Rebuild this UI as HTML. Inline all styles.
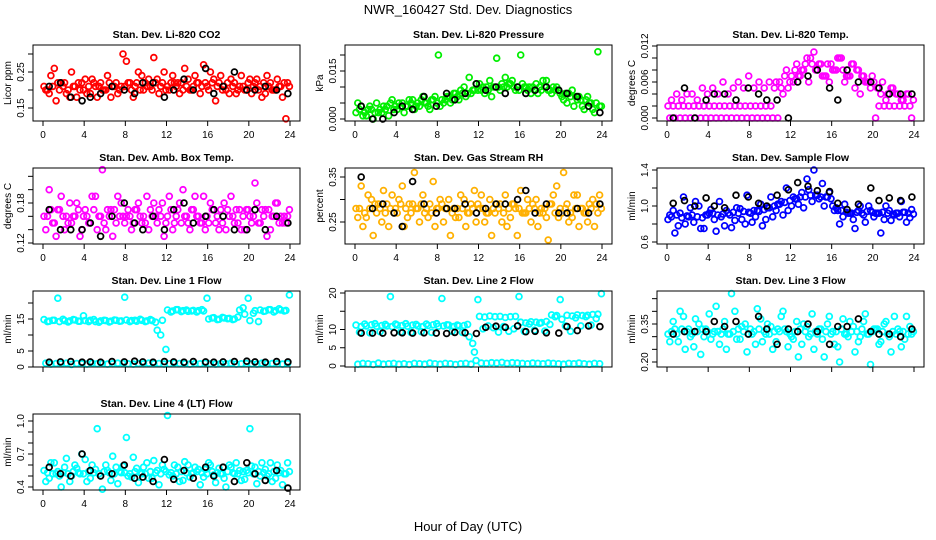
<!DOCTYPE html>
<html><head><meta charset="utf-8"><style>
body{margin:0;background:#fff;}
svg{display:block;font-family:"Liberation Sans",sans-serif;}
</style></head><body>
<svg id="chart" width="936" height="540" viewBox="0 0 936 540" xmlns="http://www.w3.org/2000/svg">
<text x="468" y="14" font-size="13" text-anchor="middle">NWR_160427  Std. Dev. Diagnostics</text>
<text x="468" y="531" font-size="13" text-anchor="middle">Hour of Day (UTC)</text>
</svg>
<script>
const halfHours=[0.1,0.6,1.1,1.6,2.1,2.6,3.1,3.6,4.1,4.6,5.1,5.6,6.1,6.6,7.1,7.6,8.1,8.6,9.1,9.6,10.1,10.6,11.1,11.6,12.1,12.6,13.1,13.6,14.1,14.6,15.1,15.6,16.1,16.6,17.1,17.6,18.1,18.6,19.1,19.6,20.1,20.6,21.1,21.6,22.1,22.6,23.1,23.6];
const blackHours=[0.6,1.7,2.7,3.8,4.6,5.6,6.7,7.9,8.9,9.7,10.7,11.8,12.7,13.7,14.6,15.8,16.6,17.5,18.6,19.8,20.6,21.6,22.7,23.8];
const xTicks=[0,4,8,12,16,20,24];

const co2A=[0.21,0.19,0.26,0.20,0.22,0.18,0.21,0.20,0.23,0.19,0.21,0.22,0.20,0.18,0.22,0.21,0.28,0.20,0.22,0.24,0.21,0.20,0.23,0.22,0.21,0.24,0.22,0.20,0.23,0.21,0.22,0.27,0.20,0.23,0.22,0.21,0.19,0.22,0.21,0.20,0.23,0.22,0.21,0.19,0.22,0.20,0.21,0.12];
const co2B=[0.20,0.24,0.17,0.22,0.19,0.25,0.18,0.22,0.19,0.23,0.18,0.20,0.24,0.21,0.19,0.30,0.22,0.18,0.25,0.20,0.23,0.29,0.19,0.25,0.20,0.22,0.19,0.26,0.20,0.24,0.19,0.22,0.25,0.17,0.24,0.20,0.23,0.19,0.24,0.20,0.19,0.23,0.18,0.24,0.20,0.23,0.18,0.22];
const co2C=[0.20,0.21,0.22,0.21,0.20,0.21,0.22,0.20,0.21,0.22,0.21,0.20,0.22,0.21,0.20,0.21,0.22,0.21,0.20,0.22,0.21,0.22,0.21,0.20,0.22,0.21,0.22,0.21,0.20,0.22,0.21,0.21,0.22,0.21,0.20,0.22,0.21,0.20,0.21,0.22,0.21,0.20,0.22,0.21,0.20,0.21,0.22,0.21];
const co2K=[0.21,0.22,0.18,0.17,0.18,0.19,0.21,0.20,0.19,0.22,0.22,0.18,0.20,0.23,0.20,0.26,0.19,0.21,0.25,0.20,0.20,0.21,0.20,0.19];

const presA=[0.002,0.004,0.001,0.003,0.005,0.002,0.004,0.006,0.003,0.005,0.004,0.006,0.005,0.007,0.004,0.006,0.020,0.005,0.007,0.008,0.006,0.010,0.013,0.009,0.011,0.008,0.012,0.010,0.009,0.013,0.011,0.009,0.020,0.010,0.008,0.011,0.009,0.012,0.008,0.010,0.007,0.005,0.009,0.006,0.004,0.007,0.003,0.021];
const presB=[0.005,0.001,0.003,0.000,0.002,0.004,0.001,0.003,0.005,0.002,0.006,0.003,0.004,0.005,0.003,0.007,0.004,0.006,0.005,0.008,0.009,0.007,0.008,0.011,0.009,0.010,0.007,0.019,0.011,0.010,0.012,0.010,0.011,0.009,0.010,0.008,0.012,0.009,0.010,0.009,0.006,0.008,0.004,0.007,0.003,0.005,0.002,0.004];
const presC=[0.003,0.002,0.004,0.002,0.003,0.003,0.005,0.004,0.004,0.004,0.005,0.004,0.006,0.005,0.006,0.005,0.006,0.007,0.006,0.007,0.008,0.008,0.009,0.009,0.010,0.009,0.010,0.010,0.010,0.011,0.010,0.009,0.010,0.010,0.009,0.010,0.010,0.009,0.009,0.008,0.008,0.007,0.007,0.006,0.006,0.005,0.005,0.004];
const presK=[0.004,0.000,0.000,0.002,0.004,0.003,0.007,0.004,0.008,0.006,0.008,0.011,0.009,0.010,0.008,0.010,0.008,0.009,0.010,0.009,0.008,0.007,0.004,0.002];

const tempA=[0.002,0.002,0.002,0.002,0.002,0.002,0.002,0.002,0.002,0.002,0.002,0.002,0.002,0.002,0.002,0.002,0.002,0.002,0.002,0.002,0.002,0.006,0.005,0.008,0.007,0.009,0.008,0.010,0.009,0.008,0.007,0.009,0.008,0.010,0.008,0.007,0.009,0.008,0.007,0.006,0.006,0.002,0.002,0.002,0.002,0.002,0.002,0.002];
const tempB=[0,0,0,0,0,0,0,0,0,0,0,0,0,0,0,0,0,0,0,0,0,0,0.004,0.005,0.006,0.007,0.008,0.006,0.011,0.009,0.007,0.006,0.008,0.010,0.006,0.007,0.005,0.004,0.006,0.005,0.000,0.004,0.003,0.005,0.004,0.003,0.004,0.000];
const tempC=[0.003,0.004,0.003,0.004,0.004,0.003,0.005,0.004,0.005,0.004,0.006,0.004,0.005,0.006,0.005,0.007,0.005,0.006,0.005,0.006,0.005,0.006,0.007,0.006,0.008,0.007,0.009,0.010,0.008,0.009,0.007,0.009,0.008,0.010,0.007,0.009,0.008,0.007,0.006,0.007,0.005,0.006,0.004,0.005,0.004,0.003,0.004,0.003];
const tempK=[0.000,0.005,0.000,0.003,0.004,0.004,0.003,0.005,0.004,0.003,0.003,0.000,0.006,0.007,0.008,0.005,0.003,0.008,0.006,0.006,0.005,0.004,0.004,0.004];

const ambA=[0.16,0.20,0.15,0.17,0.14,0.18,0.16,0.13,0.17,0.15,0.19,0.16,0.14,0.17,0.15,0.18,0.16,0.14,0.17,0.15,0.19,0.16,0.15,0.18,0.16,0.14,0.17,0.20,0.15,0.17,0.16,0.19,0.15,0.17,0.14,0.18,0.16,0.15,0.17,0.14,0.16,0.21,0.15,0.17,0.14,0.18,0.16,0.15];
const ambB=[0.14,0.17,0.13,0.19,0.16,0.15,0.18,0.14,0.16,0.19,0.14,0.23,0.17,0.13,0.19,0.16,0.17,0.15,0.18,0.16,0.14,0.18,0.17,0.13,0.19,0.15,0.18,0.16,0.14,0.19,0.15,0.14,0.18,0.15,0.17,0.14,0.19,0.17,0.14,0.17,0.15,0.18,0.17,0.13,0.16,0.18,0.15,0.16];
const ambC=[0.16,0.15,0.17,0.16,0.15,0.16,0.17,0.16,0.15,0.17,0.16,0.15,0.16,0.17,0.16,0.15,0.16,0.17,0.16,0.15,0.17,0.16,0.16,0.15,0.17,0.16,0.15,0.16,0.17,0.16,0.15,0.16,0.17,0.16,0.15,0.17,0.16,0.15,0.16,0.17,0.16,0.15,0.16,0.17,0.16,0.15,0.16,0.17];
const ambK=[0.17,0.14,0.14,0.14,0.15,0.13,0.16,0.18,0.15,0.14,0.16,0.14,0.17,0.18,0.15,0.16,0.17,0.16,0.14,0.14,0.17,0.14,0.16,0.15];

const rhA=[0.28,0.33,0.26,0.30,0.27,0.25,0.29,0.31,0.27,0.33,0.26,0.29,0.28,0.31,0.26,0.34,0.28,0.25,0.30,0.28,0.26,0.30,0.27,0.32,0.28,0.25,0.30,0.27,0.29,0.31,0.26,0.28,0.32,0.27,0.25,0.30,0.28,0.26,0.29,0.33,0.27,0.29,0.26,0.31,0.28,0.25,0.30,0.27];
const rhB=[0.26,0.24,0.31,0.22,0.29,0.32,0.24,0.27,0.30,0.24,0.29,0.36,0.25,0.27,0.29,0.24,0.30,0.28,0.22,0.26,0.31,0.24,0.29,0.25,0.31,0.27,0.22,0.29,0.25,0.24,0.29,0.22,0.27,0.30,0.29,0.24,0.27,0.21,0.31,0.26,0.36,0.25,0.31,0.24,0.27,0.29,0.24,0.31];
const rhC=[0.28,0.27,0.28,0.29,0.28,0.27,0.28,0.28,0.29,0.28,0.27,0.28,0.29,0.28,0.27,0.28,0.29,0.28,0.27,0.28,0.28,0.27,0.28,0.29,0.28,0.27,0.28,0.28,0.27,0.28,0.29,0.28,0.27,0.28,0.28,0.27,0.28,0.29,0.27,0.28,0.28,0.27,0.28,0.28,0.27,0.28,0.29,0.28];
const rhK=[0.35,0.28,0.29,0.27,0.24,0.34,0.29,0.27,0.28,0.28,0.29,0.27,0.28,0.29,0.29,0.30,0.32,0.27,0.29,0.27,0.27,0.28,0.27,0.29];

const sfA=[0.85,0.95,0.78,1.10,0.88,0.82,1.00,0.75,0.92,0.85,1.05,0.78,0.90,0.84,0.97,0.80,0.92,0.88,1.02,0.85,1.10,0.95,1.05,1.20,1.00,1.08,1.15,1.30,1.05,1.12,1.25,1.10,1.00,0.95,0.88,0.92,0.85,0.95,0.90,1.00,0.88,0.92,0.85,0.95,0.90,0.88,0.93,0.87];
const sfB=[0.90,0.70,0.92,0.80,0.98,1.05,0.75,0.90,0.96,0.72,0.88,0.95,0.76,0.98,0.85,1.12,0.82,0.95,0.78,0.98,0.88,1.02,0.90,0.95,1.10,1.02,0.98,1.18,1.40,1.08,1.00,1.15,0.95,0.80,1.02,0.92,0.75,1.00,0.82,0.95,0.92,0.70,1.00,0.84,0.92,1.05,0.82,0.96];
const sfC=[0.88,0.90,0.87,0.89,0.90,0.88,0.87,0.90,0.92,0.90,0.91,0.92,0.93,0.92,0.94,0.93,0.95,0.94,0.96,0.98,1.00,1.02,1.04,1.06,1.08,1.10,1.10,1.12,1.12,1.10,1.10,1.08,0.98,0.95,0.93,0.92,0.93,0.92,0.94,0.93,0.92,0.93,0.92,0.91,0.92,0.93,0.92,0.91];
const sfK=[1.03,1.06,1.00,1.09,1.00,0.98,1.12,1.10,1.03,1.00,1.12,1.18,1.26,1.22,1.17,1.16,1.03,0.96,1.02,1.20,1.06,1.09,1.06,1.10];

const l1A=[14.8,14.3,14.6,14.2,14.5,14.4,14.7,14.3,14.5,14.6,14.2,14.4,14.5,14.3,14.6,14.4,14.7,14.5,14.3,14.6,14.4,14.5,11.5,14.6,17.8,17.5,17.9,17.6,17.4,17.7,17.6,17.5,15.0,15.4,14.9,15.3,15.2,15.0,17.8,16.5,14.5,17.6,17.8,17.5,17.9,17.6,17.8,17.7];
const l1B=[1.2,0.9,1.1,1.0,1.2,0.8,1.1,1.0,0.9,1.2,1.0,1.1,0.9,1.0,1.2,1.1,1.0,0.9,1.1,1.0,1.2,1.0,1.1,0.9,1.0,1.2,1.1,1.0,0.9,1.1,1.0,1.2,1.0,0.9,1.1,1.0,1.2,0.9,1.0,1.1,1.0,0.9,1.2,1.0,1.1,1.0,0.9,1.1];
const l1C=[14.2,14.6,21.5,14.9,14.1,14.8,14.3,16.0,14.2,14.8,14.0,14.6,14.1,14.7,14.3,21.8,14.2,14.6,14.9,14.2,14.8,14.0,10.0,5.5,17.2,17.9,17.3,17.8,17.5,17.2,17.9,21.5,15.3,14.8,15.5,15.1,14.8,15.6,18.5,21.5,16.8,14.2,17.4,17.9,17.2,18.2,17.5,22.5];
const l1K=[1.5,1.6,1.7,1.5,1.6,1.5,1.7,1.6,1.8,1.6,1.5,1.7,1.6,1.5,1.7,1.6,1.5,1.6,1.7,1.8,1.6,1.5,1.7,1.6];

const l2A=[11.2,10.8,11.0,11.3,10.9,11.1,11.0,10.8,11.2,11.1,10.9,11.2,11.0,10.8,11.1,11.3,10.9,11.0,11.2,10.8,11.0,11.1,8.0,3.8,13.6,13.4,13.7,13.5,13.6,13.3,13.5,13.6,12.0,11.8,12.1,12.0,11.9,12.2,14.0,13.8,12.8,13.9,13.7,14.0,13.8,13.9,14.1,14.2];
const l2B=[0.5,0.7,0.6,0.4,0.8,0.5,0.6,0.7,0.5,0.6,0.4,0.7,0.6,0.5,0.8,0.6,0.5,0.7,0.6,0.4,0.6,0.7,0.5,1.5,0.8,0.7,0.9,0.8,1.0,0.7,0.9,0.8,0.7,0.6,0.8,0.7,0.6,0.8,0.7,0.6,0.5,0.7,0.6,0.8,0.6,0.5,0.7,0.6];
const l2C=[9.3,11.5,9.1,11.6,9.4,11.4,19.0,11.5,9.3,11.6,9.2,11.4,9.4,11.5,9.2,11.6,18.5,11.3,9.5,11.2,9.2,11.4,6.2,18.2,10.2,11.0,10.5,9.3,10.8,9.5,10.2,19.0,9.5,11.5,9.8,11.7,9.6,11.4,13.5,18.2,11.0,9.5,13.2,11.0,13.5,11.2,13.0,19.8];
const l2K=[9.0,9.0,9.0,9.1,9.1,9.0,9.1,9.0,8.9,9.2,9.1,8.9,10.6,10.9,10.6,11.0,9.4,9.5,9.1,9.0,10.8,9.7,11.0,10.8];

const l3A=[0.31,0.36,0.28,0.38,0.33,0.26,0.35,0.30,0.39,0.32,0.27,0.36,0.31,0.40,0.29,0.35,0.33,0.27,0.37,0.31,0.34,0.28,0.38,0.32,0.30,0.36,0.27,0.34,0.39,0.31,0.29,0.35,0.32,0.26,0.37,0.30,0.34,0.28,0.36,0.31,0.33,0.27,0.35,0.30,0.38,0.32,0.29,0.34];
const l3B=[0.28,0.33,0.40,0.25,0.30,0.37,0.23,0.33,0.29,0.42,0.31,0.25,0.47,0.29,0.34,0.24,0.31,0.41,0.28,0.35,0.25,0.33,0.40,0.26,0.29,0.22,0.35,0.30,0.25,0.33,0.22,0.38,0.27,0.20,0.31,0.36,0.24,0.30,0.39,0.19,0.33,0.28,0.36,0.24,0.31,0.26,0.38,0.31];
const l3C=[0.32,0.31,0.33,0.32,0.31,0.32,0.33,0.32,0.31,0.32,0.33,0.31,0.32,0.33,0.32,0.31,0.32,0.33,0.32,0.31,0.32,0.32,0.33,0.31,0.32,0.33,0.32,0.31,0.32,0.33,0.32,0.31,0.32,0.33,0.31,0.32,0.32,0.33,0.31,0.32,0.33,0.32,0.31,0.32,0.33,0.32,0.31,0.32];
const l3K=[0.31,0.32,0.32,0.32,0.36,0.34,0.36,0.31,0.38,0.33,0.27,0.33,0.32,0.35,0.32,0.27,0.34,0.34,0.37,0.32,0.31,0.31,0.30,0.33];

const l4A=[0.55,0.48,0.62,0.50,0.58,0.45,0.60,0.52,0.65,0.48,0.56,0.50,0.60,0.46,0.58,0.53,0.85,0.49,0.57,0.52,0.62,0.48,0.55,0.60,1.05,0.50,0.58,0.46,0.60,0.53,0.56,0.49,0.62,0.51,0.57,0.48,0.60,0.52,0.55,0.47,0.93,0.58,0.50,0.56,0.62,0.48,0.55,0.52];
const l4B=[0.45,0.62,0.52,0.40,0.66,0.50,0.57,0.70,0.45,0.60,0.93,0.38,0.55,0.68,0.43,0.59,0.50,0.67,0.44,0.58,0.48,0.64,0.42,0.56,0.51,0.60,0.45,0.63,0.49,0.58,0.42,0.56,0.60,0.44,0.52,0.40,0.58,0.62,0.46,0.55,0.59,0.43,0.62,0.50,0.45,0.60,0.42,0.62];
const l4C=[0.53,0.52,0.54,0.53,0.52,0.54,0.53,0.52,0.54,0.53,0.52,0.54,0.53,0.52,0.54,0.53,0.52,0.54,0.53,0.52,0.54,0.53,0.52,0.54,0.53,0.52,0.54,0.53,0.52,0.54,0.53,0.52,0.54,0.53,0.52,0.54,0.53,0.52,0.54,0.53,0.52,0.54,0.53,0.52,0.54,0.53,0.52,0.54];
const l4K=[0.58,0.52,0.50,0.70,0.55,0.50,0.52,0.60,0.48,0.49,0.45,0.65,0.47,0.55,0.48,0.58,0.50,0.58,0.45,0.62,0.52,0.46,0.55,0.39];

const NS='http://www.w3.org/2000/svg';
const svg=document.getElementById('chart');
function mk(tag,attrs,parent){const e=document.createElementNS(NS,tag);for(const k in attrs)e.setAttribute(k,attrs[k]);(parent||svg).appendChild(e);return e;}

const panels=[
 {name:'co2',title:'Stan. Dev. Li-820 CO2',ylab:'Licor ppm',col:0,row:0,v1:0.15,p1:108,v2:0.25,p2:72,ticks:[0.15,0.20,0.25,0.30],labels:['0.15','','0.25',''],color:'#ff0000',A:co2A,B:co2B,C:co2C,K:co2K,xl:true},
 {name:'pressure',title:'Stan. Dev. Li-820 Pressure',ylab:'kPa',col:1,row:0,v1:0,p1:119,v2:0.015,p2:71,ticks:[0,0.005,0.010,0.015,0.020],labels:['0.000','','','0.015',''],color:'#00ee00',A:presA,B:presB,C:presC,K:presK,xl:true},
 {name:'temp',title:'Stan. Dev. Li-820 Temp.',ylab:'degrees C',col:2,row:0,v1:0,p1:118,v2:0.012,p2:46,ticks:[0,0.002,0.004,0.006,0.008,0.010,0.012],labels:['0.000','','','0.006','','','0.012'],color:'#ff00ff',A:tempA,B:tempB,C:tempC,K:tempK,xl:true},
 {name:'amb-temp',title:'Stan. Dev. Amb. Box Temp.',ylab:'degrees C',col:0,row:1,v1:0.12,p1:243,v2:0.18,p2:203,ticks:[0.12,0.14,0.16,0.18,0.20,0.22],labels:['0.12','','','0.18','',''],color:'#ff00ff',A:ambA,B:ambB,C:ambC,K:ambK,xl:true},
 {name:'rh',title:'Stan. Dev. Gas Stream RH',ylab:'percent',col:1,row:1,v1:0.25,p1:222,v2:0.35,p2:177,ticks:[0.25,0.30,0.35],labels:['0.25','','0.35'],color:'#ffb000',A:rhA,B:rhB,C:rhC,K:rhK,xl:true},
 {name:'sample-flow',title:'Stan. Dev. Sample Flow',ylab:'ml/min',col:2,row:1,v1:0.6,p1:242,v2:1.4,p2:170,ticks:[0.6,0.8,1.0,1.2,1.4],labels:['0.6','','1.0','','1.4'],color:'#0000ff',A:sfA,B:sfB,C:sfC,K:sfK,xl:true},
 {name:'line1',title:'Stan. Dev. Line 1 Flow',ylab:'ml/min',col:0,row:2,v1:0,p1:367,v2:15,p2:319,ticks:[0,5,10,15,20],labels:['0','5','','15',''],color:'#00ffff',A:l1A,B:l1B,C:l1C,K:l1K,xl:false},
 {name:'line2',title:'Stan. Dev. Line 2 Flow',ylab:'ml/min',col:1,row:2,v1:0,p1:366,v2:20,p2:293,ticks:[0,5,10,15,20],labels:['0','5','10','','20'],color:'#00ffff',A:l2A,B:l2B,C:l2C,K:l2K,xl:false},
 {name:'line3',title:'Stan. Dev. Line 3 Flow',ylab:'ml/min',col:2,row:2,v1:0.20,p1:362,v2:0.35,p2:324,ticks:[0.20,0.25,0.30,0.35,0.40,0.45],labels:['0.20','','','0.35','',''],color:'#00ffff',A:l3A,B:l3B,C:l3C,K:l3K,xl:false},
 {name:'line4',title:'Stan. Dev. Line 4 (LT) Flow',ylab:'ml/min',col:0,row:3,v1:0.4,p1:487,v2:1.0,p2:421,ticks:[0.4,0.5,0.6,0.7,0.8,0.9,1.0],labels:['0.4','','','0.7','','','1.0'],color:'#00ffff',A:l4A,B:l4B,C:l4C,K:l4K,xl:true}
];

const seriesShift=[0,0.17,0.34];

panels.forEach(p=>{
  const off=p.col*312, bl=33+off, br=300+off, bt=45+p.row*123, bb=bt+76;
  const xs=h=>43+off+(h/24)*247;
  const ys=v=>p.p1+(v-p.v1)*(p.p2-p.p1)/(p.v2-p.v1);
  const g=mk('g',{});
  
  
  const t=mk('text',{x:(bl+br)/2,y:bt-7,'font-size':'10.5','font-weight':'bold','text-anchor':'middle'},g);
  t.textContent=p.title;
  
  
  const yl=mk('text',{x:0,y:0,'font-size':'10','text-anchor':'middle',transform:`translate(${bl-22},${(bt+bb)/2}) rotate(-90)`},g);
  yl.textContent=p.ylab;
  
  
  const pts=mk('g',{fill:'none','stroke-width':'1.8'},g);
  
  
  [p.A,p.B,p.C].forEach((arr,si)=>{
    arr.forEach((v,i)=>{
      const c=mk('circle',{cx:xs(halfHours[i]+seriesShift[si]).toFixed(1),cy:ys(v).toFixed(1),r:2.9,stroke:p.color},pts);
      
      
    });
  });
  p.K.forEach((v,i)=>{
    const c=mk('circle',{cx:xs(blackHours[i]).toFixed(1),cy:ys(v).toFixed(1),r:2.9,stroke:'#000'},pts);
    
    
  });
  const box=mk('rect',{x:bl,y:bt,width:br-bl,height:bb-bt,fill:'none',stroke:'#000','stroke-width':'1'},g);
  
  
  const xa=mk('g',{stroke:'#000','stroke-width':'1'},g);
  
  
  xTicks.forEach(h=>{
    mk('line',{x1:xs(h),x2:xs(h),y1:bb,y2:bb+5},xa);
    if(p.xl){
      const tx=mk('text',{x:xs(h),y:bb+17,'font-size':'10','text-anchor':'middle',stroke:'none',fill:'#000'},xa);
      tx.textContent=h;
      
      
    }
  });
  const ya=mk('g',{stroke:'#000','stroke-width':'1'},g);
  
  
  p.ticks.forEach((v,i)=>{
    const y=ys(v);
    mk('line',{x1:bl-5,x2:bl,y1:y,y2:y},ya);
    if(p.labels[i]){
      const tx=mk('text',{x:0,y:0,'font-size':'10','text-anchor':'middle',stroke:'none',fill:'#000',transform:`translate(${bl-9},${y}) rotate(-90)`},ya);
      tx.textContent=p.labels[i];
      
      
    }
  });
});
</script>
</body></html>
